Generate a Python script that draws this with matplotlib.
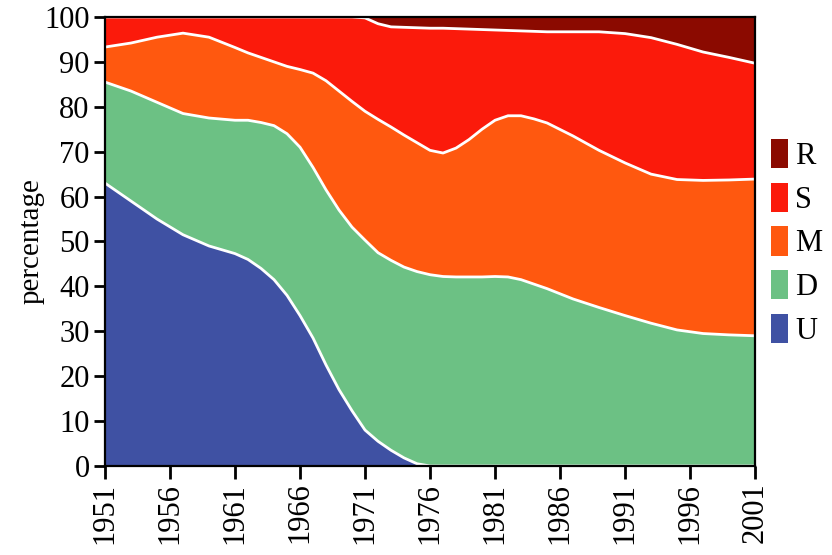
import matplotlib
matplotlib.use("Agg")
import matplotlib.pyplot as plt
import numpy as np

plt.rcParams["font.family"] = ["Liberation Serif", "DejaVu Serif"]

years = [1951, 1953, 1955, 1957, 1959,
         1961, 1962, 1963, 1964, 1965, 1966, 1967, 1968, 1969, 1970,
         1971, 1972, 1973, 1974, 1975, 1976, 1977, 1978, 1979, 1980,
         1981, 1982, 1983, 1984, 1985,
         1987, 1989, 1991, 1993, 1995, 1997, 1999, 2001]

# share of each class, percent
share_u = [63.0, 59.0, 55.0, 51.5, 49.0,
           47.3, 46.0, 44.0, 41.5, 38.0, 33.5, 28.5, 22.5, 17.0, 12.3,
           8.0, 5.5, 3.5, 1.8, 0.5, 0, 0, 0, 0, 0,
           0, 0, 0, 0, 0,
           0, 0, 0, 0, 0, 0, 0, 0]
share_d = [22.5, 24.5, 26.0, 27.0, 28.5,
           29.7, 31.0, 32.5, 34.3, 36.0, 37.5, 38.0, 39.0, 40.0, 40.9,
           42.3, 42.0, 42.3, 42.5, 42.8, 42.6, 42.2, 42.1, 42.1, 42.1,
           42.2, 42.1, 41.5, 40.5, 39.5,
           37.2, 35.3, 33.5, 31.8, 30.3, 29.5, 29.2, 29.0]
share_m = [7.8, 10.7, 14.5, 17.9, 18.0,
           16.2, 15.0, 14.5, 14.2, 15.0, 17.3, 21.0, 24.3, 26.5, 28.0,
           28.7, 29.7, 29.7, 29.4, 28.7, 27.7, 27.5, 28.7, 30.6, 32.9,
           34.8, 35.9, 36.5, 36.8, 36.9,
           36.3, 35.0, 34.0, 33.2, 33.5, 34.1, 34.5, 34.9]
share_s = [6.7, 5.8, 4.5, 3.6, 4.5,
           6.8, 8.0, 9.0, 10.0, 11.0, 11.7, 12.5, 14.2, 16.5, 18.8,
           20.8, 21.3, 22.3, 24.0, 25.6, 27.2, 27.8, 26.6, 24.6, 22.2,
           20.1, 19.0, 18.9, 19.5, 20.3,
           23.2, 26.4, 28.8, 30.4, 30.1, 28.6, 27.3, 25.8]
share_r = [0, 0, 0, 0, 0,
           0, 0, 0, 0, 0, 0, 0, 0, 0, 0,
           0.2, 1.5, 2.2, 2.3, 2.4, 2.5, 2.5, 2.6, 2.7, 2.8,
           2.9, 3.0, 3.1, 3.2, 3.3,
           3.3, 3.3, 3.7, 4.6, 6.1, 7.8, 9.0, 10.3]

labels = ["U", "D", "M", "S", "R"]
colors = ["#3f51a3", "#6cc184", "#ff580f", "#fb1a0b", "#8b0a00"]
xticks = list(range(1951, 2002, 5))

fig = plt.figure(figsize=(8.32, 5.55), dpi=100)
ax = fig.add_axes([0.1262, 0.1604, 0.7813, 0.809])

layers = [share_u, share_d, share_m, share_s, share_r]
polys = ax.stackplot(years, *layers, colors=colors, labels=labels, linewidth=0)

# white borders between the bands
tops = np.cumsum(np.array(layers), axis=0)
for top in tops[:-1]:
    ax.plot(years, top, color="white", lw=2.0, solid_joinstyle="round",
            solid_capstyle="round", zorder=2)

ax.set_xlim(1951, 2001)
ax.set_ylim(0, 100)
ax.set_xticks(xticks)
ax.set_xticklabels([str(y) for y in xticks], rotation=90)
ax.set_yticks(range(0, 101, 10))
ax.tick_params(axis="both", direction="out", length=8, width=2, labelsize=22,
               color="black", pad=3)
ax.tick_params(axis="x", length=9)
for sp in ax.spines.values():
    sp.set_linewidth(1.6)
    sp.set_color("black")
    sp.set_zorder(3)
ax.set_ylabel("percentage", fontsize=21, labelpad=0)

handles = polys[::-1]
fig.legend(handles, labels[::-1], loc="upper left",
           bbox_to_anchor=(771 / 832, 1 - 139 / 555), frameon=False,
           fontsize=22, handlelength=0.55, handleheight=1.1,
           handletextpad=0.25, labelspacing=0.38, borderpad=0, borderaxespad=0)

fig.savefig("out.png", dpi=100)
